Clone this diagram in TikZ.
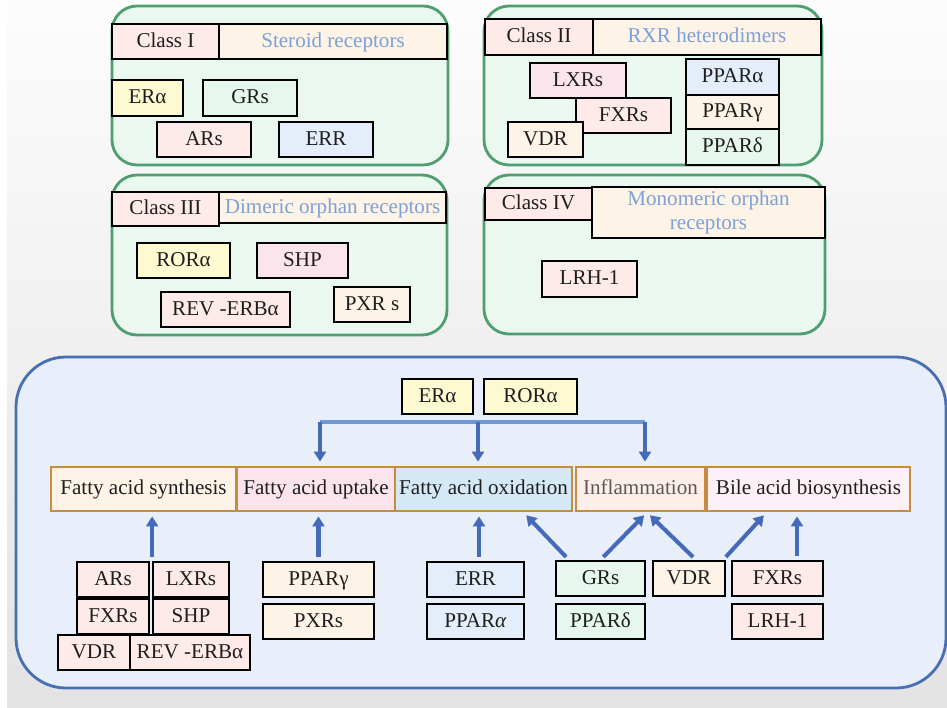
\documentclass[tikz,border=0pt]{standalone}
\usepackage{fontspec}
\setmainfont{Liberation Serif}
\usetikzlibrary{arrows.meta}
\definecolor{pgreen}{RGB}{78,158,112}
\definecolor{pmint}{RGB}{235,248,240}
\definecolor{bblue}{RGB}{72,110,180}
\definecolor{bfill}{RGB}{232,239,250}
\definecolor{ablue}{RGB}{70,106,186}
\definecolor{lblue}{RGB}{112,152,212}
\definecolor{hblue}{RGB}{125,160,215}
\definecolor{porange}{RGB}{200,140,62}
\definecolor{cpink}{RGB}{253,234,233}
\definecolor{crose}{RGB}{252,228,236}
\definecolor{cpeach}{RGB}{253,243,230}
\definecolor{cyellow}{RGB}{253,250,210}
\definecolor{cmint}{RGB}{230,247,238}
\definecolor{cblue}{RGB}{228,238,250}
\definecolor{coxi}{RGB}{213,232,246}
\definecolor{cinf}{RGB}{253,238,234}
\definecolor{cbile}{RGB}{253,240,247}
\definecolor{txt}{RGB}{30,30,30}

\begin{document}
\begin{tikzpicture}[x=0.02cm, y=-0.02cm,
    font=\fontsize{12}{14}\selectfont,
    sz/.style 2 args={minimum width=#1*0.02cm, minimum height=#2*0.02cm},
    rec/.style={draw=black, line width=1.3pt, inner sep=0pt, text=txt, text height=0.8em, text depth=0.14em},
    head/.style={rec, fill=cpeach, text=hblue},
    panel/.style={draw=pgreen, fill=pmint, line width=1.6pt, rounded corners=0.5cm},
    proc/.style={draw=porange, line width=1.6pt, inner sep=0pt, text=txt, minimum height=44*0.02cm,
                 text height=0.8em, text depth=0.14em},
    uarr/.style={draw=ablue, line width=2.3pt, -{Triangle[width=0.24cm,length=0.2cm]},
                 shorten <=0.08cm, shorten >=0.08cm}]
  \useasboundingbox (0,0) rectangle (947,707);
  \fill[white] (0,0) rectangle (947,707);
  \shade[top color=gray!2, bottom color=gray!22] (7,0) rectangle (947,707);

  % class I
  \draw[panel] (112,6) rectangle (448,165);
  \node[head, sz={228}{35}] (dsc1) at (333,41.5) {Steroid receptors};
  \node[rec, fill=cpink, sz={107}{35}] (cls1) at (165.5,41.5) {Class I};
  \node[rec, fill=cyellow, sz={71}{36}] (era1) at (147.5,98) {ERα};
  \node[rec, fill=cmint, sz={94}{36}] (grs1) at (250,98) {GRs};
  \node[rec, fill=cpink, sz={94}{35}] (ars1) at (204,139.5) {ARs};
  \node[rec, fill=cblue, sz={94}{35}] (err1) at (326,139.5) {ERR};

  % class II
  \draw[panel] (484,6) rectangle (822,165);
  \node[head, sz={228}{36}] (dsc2) at (707,37) {RXR heterodimers};
  \node[rec, fill=cpink, sz={108}{36}] (cls2) at (539,37) {Class II};
  \node[rec, fill=crose, sz={96}{35}] (lxr2) at (578,80.5) {LXRs};
  \node[rec, fill=cpink, sz={95}{35}] (fxr2) at (623.5,115.5) {FXRs};
  \node[rec, fill=cpeach, sz={75}{35}] (vdr2) at (545.5,139.5) {VDR};
  \node[rec, fill=cblue, sz={93}{36}] (ppa2) at (732.5,77) {PPARα};
  \node[rec, fill=cpeach, sz={93}{34}] (ppg2) at (732.5,112) {PPARγ};
  \node[rec, fill=cmint, sz={93}{36}] (ppd2) at (732.5,147) {PPARδ};

  % class III
  \draw[panel] (112,175) rectangle (447,335);
  \node[head, sz={227}{31}] (dsc3) at (332.5,207.5) {Dimeric orphan receptors};
  \node[rec, fill=cpink, sz={107}{34}] (cls3) at (165.5,209) {Class III};
  \node[rec, fill=cyellow, sz={93}{35}] (ror3) at (183.5,260.5) {RORα};
  \node[rec, fill=crose, sz={91}{35}] (shp3) at (302.5,260.5) {SHP};
  \node[rec, fill=cpink, sz={129}{35}] (rev3) at (225.5,309.5) {REV -ERBα};
  \node[rec, fill=cpeach, sz={76}{35}] (pxr3) at (372,304.5) {PXR s};

  % class IV
  \draw[panel] (484,175) rectangle (825,334);
  \node[head, sz={233}{51}, align=center, text height=, text depth=] (dsc4) at (708.5,212.5) {Monomeric orphan\\receptors};
  \node[rec, fill=cpink, sz={107}{32}] (cls4) at (538.5,204) {Class IV};
  \node[rec, fill=cpink, sz={95}{36}] (lrh4) at (589.5,279) {LRH-1};

  % metabolism
  \draw[draw=bblue, fill=bfill, line width=1.6pt, rounded corners=1cm] (16,357) rectangle (946,688);
  \node[rec, fill=cyellow, sz={71}{35}] (era) at (437.5,396.5) {ERα};
  \node[rec, fill=cyellow, sz={93}{35}] (ror) at (530.5,396.5) {RORα};

  \node[proc, fill=cpeach, minimum width=185*0.02cm] (syn) at (143.5,489) {Fatty acid synthesis};
  \node[proc, fill=crose, minimum width=158*0.02cm] (upt) at (316,489) {Fatty acid uptake};
  \node[proc, fill=coxi, minimum width=177*0.02cm] (oxi) at (483.5,489) {Fatty acid oxidation};
  \node[proc, fill=cinf, text=black!65, minimum width=129*0.02cm] (inf) at (640.5,489) {Inflammation};
  \node[proc, fill=cbile, minimum width=203*0.02cm] (bile) at (808.5,489) {Bile acid biosynthesis};

  \coordinate (bl) at (320,422);
  \coordinate (bm) at (478,422);
  \coordinate (br) at (645,422);
  \draw[lblue, line width=2.3pt] (bl) -- (br);
  \foreach \c/\t in {bl/upt, bm/oxi, br/inf}
    \draw[uarr, shorten <=0pt] (\c) -- (\c |- \t.north);

  \node[rec, fill=cpink, sz={72}{35}] (ars) at (113,579.5) {ARs};
  \node[rec, fill=cpink, sz={76}{35}] (lxr) at (191,579.5) {LXRs};
  \node[rec, fill=cpink, sz={72}{35}] (fxr) at (113,616.5) {FXRs};
  \node[rec, fill=cpink, sz={76}{35}] (shp) at (191,616.5) {SHP};
  \node[rec, fill=cpink, sz={72}{35}] (vdr) at (94,652.5) {VDR};
  \node[rec, fill=cpink, sz={120}{35}] (rev) at (190,652.5) {REV -ERBα};
  \node[rec, fill=cpeach, sz={111}{35}] (ppg) at (318.5,579.5) {PPARγ};
  \node[rec, fill=cpeach, sz={111}{35}] (pxr) at (318.5,621.5) {PXRs};
  \node[rec, fill=cblue, sz={97}{35}] (err) at (475.5,579.5) {ERR};
  \node[rec, fill=cblue, sz={97}{35}] (ppa) at (475.5,621.5) {PPAR\textit{α}};
  \node[rec, fill=cmint, sz={89}{35}] (grs) at (600.5,578.5) {GRs};
  \node[rec, fill=cmint, sz={89}{35}] (ppd) at (600.5,621.5) {PPARδ};
  \node[rec, fill=cpeach, sz={72}{35}] (vdrb) at (689,578.5) {VDR};
  \node[rec, fill=cpink, sz={91}{35}] (fxrb) at (777.5,578.5) {FXRs};
  \node[rec, fill=cpink, sz={91}{35}] (lrh) at (777.5,621.5) {LRH-1};

  \draw[uarr] ([xshift=0.04cm]ars.north east) -- ([xshift=0.04cm]ars.north east |- syn.south);
  \draw[uarr] (ppg.north) -- (ppg.north |- upt.south);
  \draw[uarr] ([xshift=0.07cm]err.north) -- ([xshift=0.07cm]err.north |- oxi.south);
  \draw[uarr] ([xshift=0.28cm]grs.north west) -- ([xshift=-1cm]oxi.south east);
  \draw[uarr] (grs.north) -- ([xshift=0.13cm]inf.south);
  \draw[uarr] ([xshift=0.14cm]vdrb.north) -- ([xshift=0.13cm]inf.south);
  \draw[uarr] ([xshift=-0.06cm]vdrb.north east) -- ([xshift=1.22cm]bile.south west);
  \draw[uarr] ([xshift=0.39cm]fxrb.north) -- ([xshift=0.39cm]fxrb.north |- bile.south);
\end{tikzpicture}
\end{document}
